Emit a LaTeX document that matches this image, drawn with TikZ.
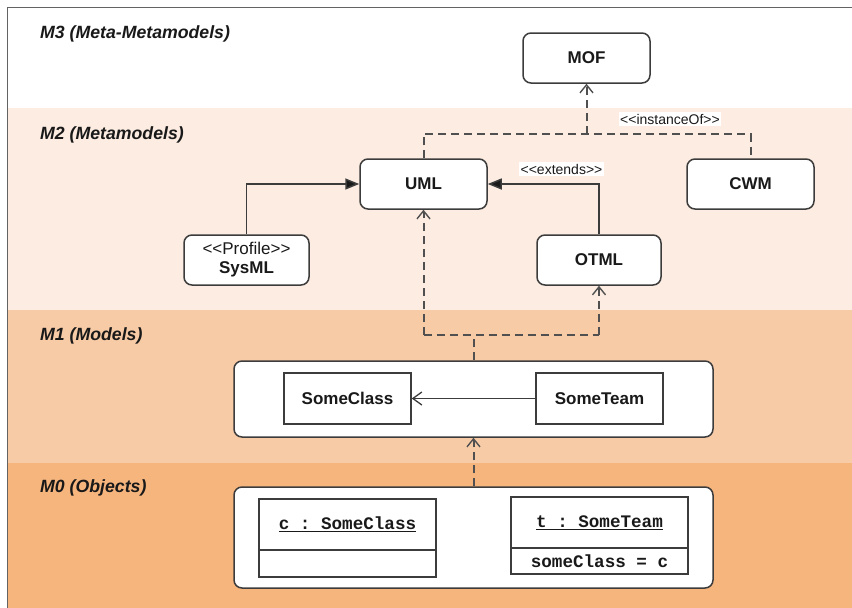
\documentclass[tikz,border=0pt]{standalone}
\usepackage{fontspec}
\setmainfont{Liberation Sans}
\setmonofont{Liberation Mono}
\usetikzlibrary{arrows.meta}

\definecolor{bandtwo}{RGB}{252,236,225}
\definecolor{bandone}{RGB}{248,203,167}
\definecolor{bandzero}{RGB}{247,181,126}
\definecolor{edgegray}{RGB}{60,60,60}
\definecolor{dashgray}{RGB}{80,80,80}
\definecolor{inkdark}{RGB}{25,25,25}

\tikzset{
  frameline/.style={draw=edgegray!80, line width=1.6pt},
  layer/.style={anchor=base west, inner sep=0pt, text=inkdark,
    font=\fontsize{17.7}{20}\selectfont\bfseries\itshape},
  pkg/.style={draw=edgegray, line width=1.5pt, fill=white, rounded corners=8pt,
    text=inkdark, font=\fontsize{17}{20}\selectfont\bfseries, align=center,
    inner sep=0pt},
  cls/.style={draw=edgegray, line width=1.5pt, fill=white,
    text=inkdark, font=\fontsize{17}{20}\selectfont\bfseries, inner sep=0pt},
  objpart/.style={draw=edgegray, line width=1.5pt, fill=white, text=inkdark,
    font=\fontsize{17.6}{20}\selectfont\ttfamily\bfseries, inner sep=0pt,
    minimum width=177pt},
  stereo/.style={fill=white, text=inkdark, inner sep=1.5pt,
    font=\fontsize{14}{16}\selectfont},
  dep/.style={draw=dashgray, line width=2pt, dash pattern=on 8pt off 5pt,
    -{Straight Barb[length=8pt,width=13pt,line width=1.4pt]}},
  depline/.style={draw=dashgray, line width=2pt, dash pattern=on 8pt off 5pt},
  gen/.style={draw=edgegray, line width=1.5pt,
    -{Triangle[length=14pt,width=11pt,fill=inkdark]}},
  assoc/.style={draw=edgegray, line width=1.5pt,
    -{Straight Barb[length=9pt,width=13pt,line width=1.3pt]}}
}

\begin{document}
\begin{tikzpicture}[x=1pt, y=-1pt]
\useasboundingbox (0,0) rectangle (852,608);
\fill[white] (0,0) rectangle (852,608);

% layer bands
\fill[bandtwo]  (7.5,108) rectangle (852,310);
\fill[bandone]  (7.5,310) rectangle (852,463);
\fill[bandzero] (7.5,463) rectangle (852,608);
\draw[frameline] (852,7.5) -- (7.5,7.5) -- (7.5,608);

% layer titles
\node[layer] (m3) at (40,38)  {M3 (Meta-Metamodels)};
\node[layer] (m2) at (40,139) {M2 (Metamodels)};
\node[layer] (m1) at (40,340) {M1 (Models)};
\node[layer] (m0) at (40,492) {M0 (Objects)};

% M3 / M2 packages
\node[pkg, minimum width=127pt, minimum height=50pt] (mof)  at (586.5,58)  {MOF};
\node[pkg, minimum width=127pt, minimum height=50pt] (uml)  at (423.5,184) {UML};
\node[pkg, minimum width=127pt, minimum height=50pt] (cwm)  at (750.5,184) {CWM};
\node[pkg, minimum width=125pt, minimum height=50pt] (sysml) at (246.5,260)
  {{\mdseries <{}<Profile>{}>}\\[-1pt]SysML};
\node[pkg, minimum width=124pt, minimum height=50pt] (otml) at (599,260) {OTML};

% M1 model
\node[pkg, minimum width=479pt, minimum height=76pt] (mone) at (473.5,399) {};
\node[cls, minimum width=127pt, minimum height=51pt] (someclass) at (347.5,398.5) {SomeClass};
\node[cls, minimum width=127pt, minimum height=51pt] (someteam)  at (599.5,398.5) {SomeTeam};

% M0 objects: name compartment with an attribute compartment below it
\node[pkg, minimum width=479pt, minimum height=101pt] (mzero) at (473.5,537.5) {};
\node[objpart, minimum height=51pt] (chead) at (347.5,524.5) {\underline{c : SomeClass}};
\node[objpart, minimum height=27pt, anchor=north] (cbody) at ([yshift=1.5pt]chead.south) {};
\node[objpart, minimum height=51pt] (thead) at (599.5,522.5) {\underline{t : SomeTeam}};
\node[objpart, minimum height=26pt, anchor=north] (tbody) at ([yshift=1.5pt]thead.south) {someClass = c};

% instanceOf between M2 and M3
\coordinate (jtop) at (586.5,134);
\draw[depline] (uml.north) -- (uml.north |- jtop) -- (cwm.north |- jtop) -- (cwm.north);
\draw[dep] (jtop) -- (mof.south);
\node[stereo] (inst) at (670,119) {<{}<instanceOf>{}>};

% extension relations within M2
\draw[gen] (sysml.north) |- (uml.west);
\draw[gen] (otml.north) |- (uml.east);
\node[stereo] (ext) at (561.5,169) {<{}<extends>{}>};

% M1 to M2
\coordinate (jmid) at (473.5,335);
\draw[depline] (mone.north) -- (jmid);
\draw[depline] (uml.south |- jmid) -- (otml.south |- jmid);
\draw[dep] (uml.south |- jmid) -- (uml.south);
\draw[dep] (otml.south |- jmid) -- (otml.south);

% association inside M1
\draw[assoc] (someteam.west) -- (someclass.east);

% M0 to M1
\draw[dep] (mzero.north) -- (mone.south);
\end{tikzpicture}
\end{document}
